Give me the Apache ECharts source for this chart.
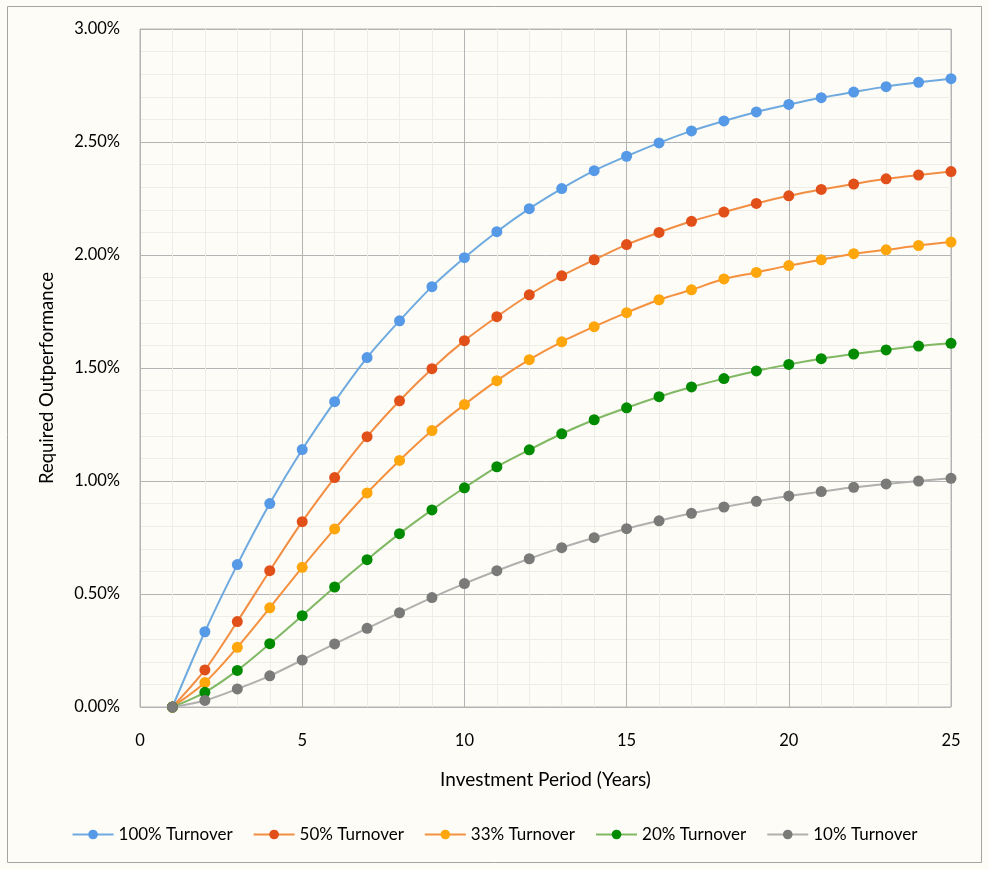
<!DOCTYPE html>
<html>
<head>
<meta charset="utf-8">
<script src="https://cdn.jsdelivr.net/npm/echarts@6/dist/echarts.min.js"></script>
<style>
html,body{margin:0;padding:0;background:#fdfcf7;}
#c{width:989px;height:870px;}
</style>
</head>
<body>
<div id="c"></div>
<script>
const years = [1,2,3,4,5,6,7,8,9,10,11,12,13,14,15,16,17,18,19,20,21,22,23,24,25];
const seriesNames = ['100% Turnover','50% Turnover','33% Turnover','20% Turnover','10% Turnover'];
const turnover100 = [0,0.333,0.630,0.900,1.139,1.351,1.546,1.709,1.860,1.988,2.103,2.205,2.294,2.373,2.437,2.496,2.549,2.593,2.633,2.666,2.696,2.721,2.745,2.764,2.780];
const turnover50  = [0,0.164,0.378,0.603,0.820,1.015,1.196,1.355,1.497,1.621,1.727,1.824,1.908,1.979,2.046,2.100,2.149,2.190,2.228,2.262,2.290,2.314,2.337,2.354,2.369];
const turnover33  = [0,0.108,0.264,0.439,0.618,0.788,0.947,1.091,1.223,1.338,1.444,1.537,1.616,1.683,1.745,1.802,1.846,1.894,1.923,1.953,1.979,2.006,2.023,2.042,2.057];
const turnover20  = [0,0.065,0.162,0.280,0.404,0.531,0.652,0.767,0.872,0.970,1.063,1.138,1.209,1.271,1.324,1.373,1.416,1.453,1.487,1.516,1.541,1.562,1.580,1.597,1.609];
const turnover10  = [0,0.029,0.080,0.138,0.208,0.279,0.348,0.417,0.484,0.546,0.603,0.656,0.705,0.749,0.789,0.824,0.857,0.885,0.910,0.934,0.953,0.972,0.987,1.000,1.012];
const allValues = [turnover100,turnover50,turnover33,turnover20,turnover10];
const markerColors = ['#5699e6','#e2501a','#fea60c','#008b00','#7a7a78'];
const lineColors = ['#6eaadf','#f28e43','#f4913f','#80b864','#b0b0ae'];

const FONT = 'Lato';
const chart = echarts.init(document.getElementById('c'), null, {renderer:'canvas'});
chart.setOption({
  backgroundColor:'#fdfcf7',
  animation:false,
  textStyle:{fontFamily:FONT},
  grid:{left:140,right:38,top:29,bottom:163,show:true,borderColor:'#b4b4b4',borderWidth:1,backgroundColor:'#fdfcf7'},
  graphic:[
    {type:'rect',shape:{x:7.5,y:6.5,width:974,height:856},style:{fill:'none',stroke:'#a4a4a2',lineWidth:1},silent:true,z:-1},
    {type:'text',x:47,y:378,rotation:Math.PI/2,style:{text:'Required Outperformance',fontFamily:FONT,fontSize:18.5,fill:'#000',align:'center',verticalAlign:'middle'}}
  ],
  legend:{
    bottom:22,left:'center',itemWidth:41,itemHeight:12,itemGap:20,
    textStyle:{fontFamily:FONT,fontSize:17,color:'#000'},
    data:seriesNames
  },
  xAxis:{
    type:'value',min:0,max:25,interval:5,
    name:'Investment Period (Years)',nameLocation:'middle',nameGap:63,
    nameTextStyle:{fontFamily:FONT,fontSize:19,color:'#000'},
    axisLine:{show:false},axisTick:{show:false},
    axisLabel:{fontFamily:FONT,fontSize:16.5,color:'#000',margin:25},
    splitLine:{show:true,lineStyle:{color:'#b4b4b4',width:1}},
    minorTick:{show:false,splitNumber:5},
    minorSplitLine:{show:true,lineStyle:{color:'#eeede6',width:1}}
  },
  yAxis:{
    type:'value',min:0,max:3,interval:0.5,
    axisLine:{show:false},axisTick:{show:false},
    axisLabel:{fontFamily:FONT,fontSize:16.5,color:'#000',margin:20,formatter:v=>v.toFixed(2)+'%'},
    splitLine:{show:true,lineStyle:{color:'#b4b4b4',width:1}},
    minorTick:{show:false,splitNumber:5},
    minorSplitLine:{show:true,lineStyle:{color:'#eeede6',width:1}}
  },
  series:seriesNames.map((n,i)=>({
    name:n,type:'line',smooth:0.3,
    data:years.map((x,j)=>[x,allValues[i][j]]),
    symbol:'circle',symbolSize:11,
    lineStyle:{color:lineColors[i],width:2},
    itemStyle:{color:markerColors[i]},
    color:markerColors[i],
    emphasis:{disabled:true}
  }))
});
</script>
</body>
</html>
